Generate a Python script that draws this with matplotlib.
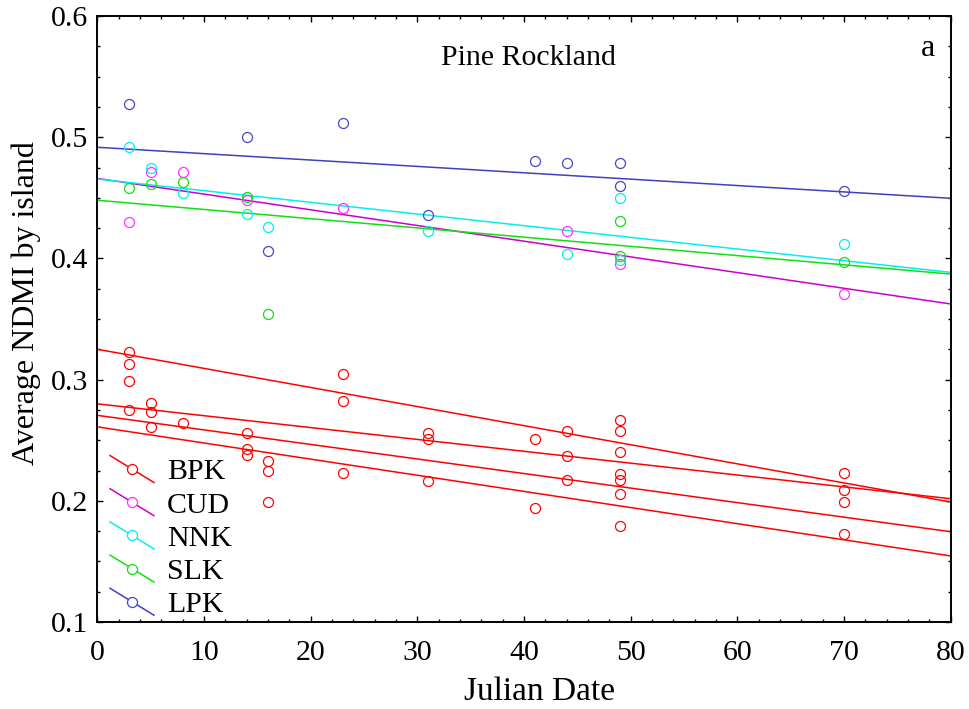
import matplotlib.pyplot as plt
import numpy as np
from matplotlib.legend_handler import HandlerBase
from matplotlib.lines import Line2D
from matplotlib.ticker import MultipleLocator

plt.rcParams["font.family"] = ["Liberation Serif", "DejaVu Serif"]

islands = ["BPK", "CUD", "NNK", "SLK", "LPK"]
marker_colors = ["#ff0000", "#ff33ff", "#00f0f0", "#10e010", "#4848c0"]
line_colors = ["#ff0000", "#cc00cc", "#00f0f0", "#10e010", "#4040c0"]

# average NDMI per sampling date, one list per island
bpk_dates = [3, 3, 3, 3, 5, 5, 5, 8, 14, 14, 14, 16, 16, 16, 23, 23, 23,
             31, 31, 31, 41, 41, 44, 44, 44, 49, 49, 49, 49, 49, 49, 49,
             70, 70, 70, 70]
bpk_ndmi = [0.323, 0.313, 0.299, 0.275, 0.281, 0.273, 0.261, 0.264,
            0.256, 0.243, 0.238, 0.233, 0.225, 0.199, 0.305, 0.282, 0.223,
            0.256, 0.251, 0.216, 0.251, 0.194, 0.258, 0.237, 0.217,
            0.267, 0.258, 0.240, 0.222, 0.217, 0.206, 0.179,
            0.223, 0.209, 0.199, 0.173]

cud_dates = [3, 5, 8, 14, 23, 44, 49, 70]
cud_ndmi = [0.430, 0.471, 0.471, 0.448, 0.442, 0.423, 0.395, 0.371]

nnk_dates = [3, 5, 8, 14, 16, 31, 44, 49, 49, 70]
nnk_ndmi = [0.492, 0.475, 0.454, 0.437, 0.426, 0.423, 0.404, 0.450, 0.399, 0.412]

slk_dates = [3, 5, 8, 14, 16, 49, 49, 70]
slk_ndmi = [0.458, 0.461, 0.463, 0.451, 0.354, 0.431, 0.402, 0.397]

lpk_dates = [3, 14, 16, 23, 31, 41, 44, 49, 49, 70]
lpk_ndmi = [0.527, 0.500, 0.406, 0.512, 0.436, 0.480, 0.479, 0.479, 0.460, 0.456]

# linear fits: value at day 0 and day 80 (BPK has four sites)
fit_island = ["BPK", "BPK", "BPK", "BPK", "CUD", "NNK", "SLK", "LPK"]
fit_start = [0.325, 0.280, 0.2705, 0.261, 0.466, 0.4655, 0.448, 0.4917]
fit_end = [0.199, 0.2017, 0.1745, 0.1545, 0.3624, 0.3885, 0.3871, 0.4496]

dates = [bpk_dates, cud_dates, nnk_dates, slk_dates, lpk_dates]
ndmi = [bpk_ndmi, cud_ndmi, nnk_ndmi, slk_ndmi, lpk_ndmi]

x_lim = (0, 80)
y_lim = (0.1, 0.6)
marker_size = 7.2


class SlantedKey(HandlerBase):
    # legend key: a short falling line with the open marker in the middle
    def create_artists(self, legend, orig_handle, xdescent, ydescent,
                       width, height, fontsize, trans):
        color = orig_handle.get_color()
        mcolor = orig_handle.get_markeredgecolor()
        ymid = height / 2 - ydescent
        drop = 19.4
        x0 = -xdescent
        line = Line2D([x0, x0 + width], [ymid + drop / 2, ymid - drop / 2],
                      color=color, lw=1.1)
        mark = Line2D([x0 + width / 2], [ymid], marker="o", ls="none",
                      mfc="white", mec=mcolor, ms=marker_size, mew=0.9)
        line.set_transform(trans)
        mark.set_transform(trans)
        return [line, mark]


fig = plt.figure(figsize=(9.7, 7.09), dpi=100)
ax = fig.add_axes([0.1005, 0.1227, 0.8796, 0.8547])

xs = np.array(x_lim, dtype=float)
for name, start, end in zip(fit_island, fit_start, fit_end):
    k = islands.index(name)
    slope = (end - start) / (x_lim[1] - x_lim[0])
    ax.plot(xs, start + slope * xs, color=line_colors[k], lw=1.1, zorder=2)

handles = []
for k, name in enumerate(islands):
    ax.plot(dates[k], ndmi[k], ls="none", marker="o", ms=marker_size,
            mfc="none", mec=marker_colors[k], mew=0.9, zorder=3)
    handles.append(Line2D([], [], color=line_colors[k],
                          markeredgecolor=marker_colors[k]))

ax.set_xlim(*x_lim)
ax.set_ylim(*y_lim)
ax.xaxis.set_major_locator(MultipleLocator(10))
ax.xaxis.set_minor_locator(MultipleLocator(2))
ax.yaxis.set_major_locator(MultipleLocator(0.1))
ax.yaxis.set_minor_locator(MultipleLocator(0.025))
ax.tick_params(which="both", direction="in", top=True, right=True,
               labelsize=21.5, width=1.0)
ax.tick_params(which="major", length=4.3)
ax.tick_params(which="minor", length=2.5)
ax.tick_params(axis="x", which="major", pad=13)
ax.tick_params(axis="y", which="major", pad=7)
for spine in ax.spines.values():
    spine.set_linewidth(1.4)

ax.set_xlabel("Julian Date", fontsize=24)
ax.xaxis.set_label_coords(0.5176, -0.09)
ax.set_ylabel("Average NDMI by island", fontsize=23)
ax.yaxis.set_label_coords(-0.066, 0.526)

ax.text(0.505, 0.92, "Pine Rockland", transform=ax.transAxes,
        ha="center", va="baseline", fontsize=21.5)
ax.text(0.973, 0.934, "a", transform=ax.transAxes,
        ha="center", va="baseline", fontsize=23)

ax.legend(handles, islands, handler_map={Line2D: SlantedKey()},
          loc="center left", bbox_to_anchor=(0.0147, 0.138),
          frameon=False, fontsize=21.5, borderpad=0, borderaxespad=0,
          handlelength=1.47, handletextpad=0.44, labelspacing=0.21)

fig.savefig("out.png", dpi=100)
